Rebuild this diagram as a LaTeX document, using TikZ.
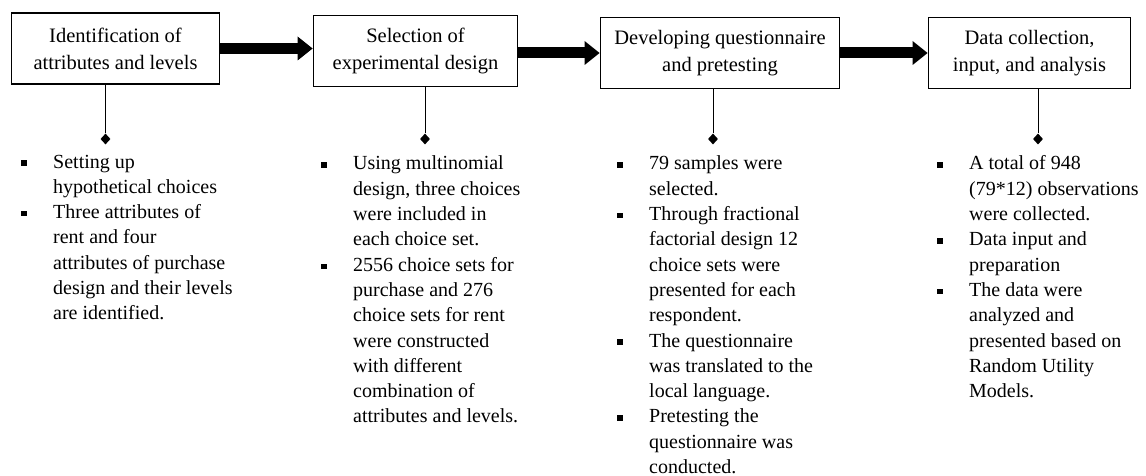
\documentclass[tikz,border=0pt]{standalone}
\usepackage{fontspec}
\setmainfont{Liberation Serif}
\usetikzlibrary{arrows.meta,shapes.geometric}

\tikzset{
	stage/.style={draw, line width=1.8pt, inner sep=0pt, minimum height=71pt, align=center,
		font=\fontsize{20.5}{27}\selectfont},
	flow/.style={line width=11pt, -{Triangle[length=15pt 0 0, width=24pt 0 0, line width=0pt]}},
	pin/.style={diamond, fill, inner sep=0pt, minimum width=10pt, minimum height=11pt},
	notes/.style={anchor=base west, inner sep=0pt, font=\fontsize{20}{25.3}\selectfont},
}
\newcommand{\sq}{\rule[2.2pt]{5.5pt}{5.5pt}}
\newcommand{\notelist}[1]{\begin{tabular}[t]{@{}p{32pt}@{}l@{}}#1\end{tabular}}

\begin{document}
\begin{tikzpicture}[x=1pt,y=-1pt]
%	\draw[help lines,step=50] (0,0) grid (1146,476);
	\useasboundingbox (0,0) rectangle (1146,476);
	% the four stages
	\node [stage, minimum width=208pt] (b1) at (115.5,48.5) {Identification of\\attributes and levels};
	\node [stage, minimum width=204pt] (b2) at (415.5,51) {Selection of\\experimental design};
	\node [stage, minimum width=239pt] (b3) at (720,53) {Developing questionnaire\\and pretesting};
	\node [stage, minimum width=202pt] (b4) at (1029.5,53) {Data collection,\\input, and analysis};
	\draw [flow] (b1.east) -- (b1.east -| b2.west);
	\draw [flow] (b3.west -| b2.east) -- (b3.west);
	\draw [flow] (b3.east) -- (b4.west);
	% pins
	\node [pin] (d1) at (105.5,139) {};
	\node [pin] (d2) at (425,139) {};
	\node [pin] (d3) at (713,139) {};
	\node [pin] (d4) at (1038,139) {};
	\draw (d1.north) -- (d1.north |- b1.south);
	\draw (d2.north) -- (d2.north |- b2.south);
	\draw (d3.north) -- (d3.north |- b3.south);
	\draw (d4.north) -- (d4.north |- b4.south);
	% notes under each stage
	\node [notes] (l1) at (21,168) {\notelist{
		\sq & Setting up\\
		    & hypothetical choices\\
		\sq & Three attributes of\\
		    & rent and four\\
		    & attributes of purchase\\
		    & design and their levels\\
		    & are identified.}};
	\node [notes] (l2) at (321,170) {\notelist{
		\sq & Using multinomial\\
		    & design, three choices\\
		    & were included in\\
		    & each choice set.\\
		\sq & 2556 choice sets for\\
		    & purchase and 276\\
		    & choice sets for rent\\
		    & were constructed\\
		    & with different\\
		    & combination of\\
		    & attributes and levels.}};
	\node [notes] (l3) at (617,170) {\notelist{
		\sq & 79 samples were\\
		    & selected.\\
		\sq & Through fractional\\
		    & factorial design 12\\
		    & choice sets were\\
		    & presented for each\\
		    & respondent.\\
		\sq & The questionnaire\\
		    & was translated to the\\
		    & local language.\\
		\sq & Pretesting the\\
		    & questionnaire was\\
		    & conducted.}};
	\node [notes] (l4) at (937,170) {\notelist{
		\sq & A total of 948\\
		    & (79*12) observations\\
		    & were collected.\\
		\sq & Data input and\\
		    & preparation\\
		\sq & The data were\\
		    & analyzed and\\
		    & presented based on\\
		    & Random Utility\\
		    & Models.}};
\end{tikzpicture}
\end{document}
